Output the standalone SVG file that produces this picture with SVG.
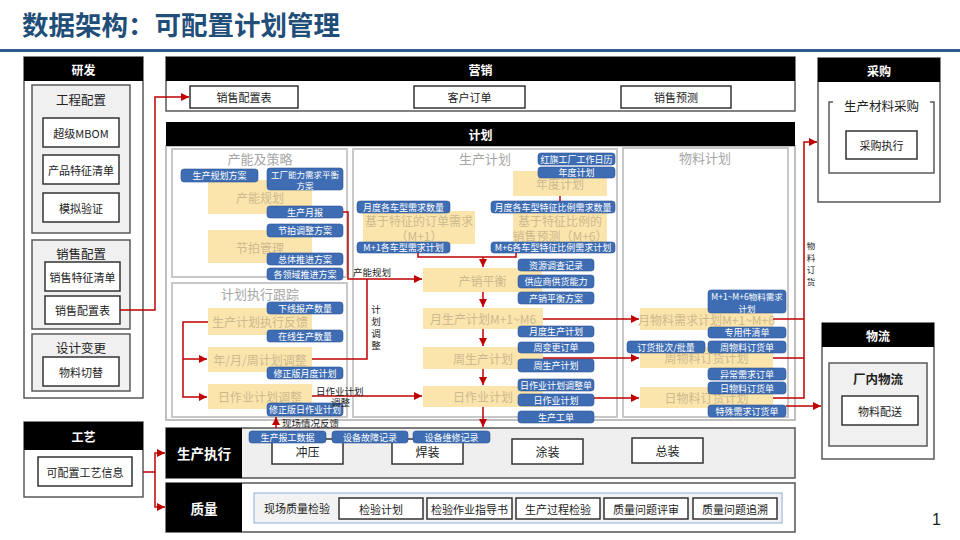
<svg xmlns="http://www.w3.org/2000/svg" width="960" height="540" viewBox="0 0 960 540">
<defs>
<marker id="arr" viewBox="0 0 10 10" refX="10" refY="5" markerWidth="8" markerHeight="8" markerUnits="userSpaceOnUse" orient="auto">
<path d="M0,0 L10,5 L0,10 z" fill="#c00000"/>
</marker>
<style>
text{font-family:"Noto Sans CJK SC","Noto Sans",sans-serif;}
.hd{fill:#000}
.hdt{fill:#fff;font-size:12px;font-weight:bold;text-anchor:middle;dominant-baseline:central}
.ob{fill:#fff;stroke:#595959;stroke-width:1.5}
.gb{fill:#f0f0f0;stroke:#595959;stroke-width:1.5}
.wb{fill:#fff;stroke:#333;stroke-width:1.5}
.t{fill:#222;font-size:11px;text-anchor:middle;dominant-baseline:central}
.gt{fill:#222;font-size:12.5px;text-anchor:middle;dominant-baseline:central}
.pn{fill:#fff;stroke:#c8c8c8;stroke-width:2}
.pt{fill:#a6a6a6;font-size:13px;text-anchor:middle;dominant-baseline:central}
.yb{fill:#fbe5ad}
.yt{fill:#cdb98e;font-size:12px;text-anchor:middle;dominant-baseline:central}
.tg{fill:#3e6db3;stroke:#2f5597;stroke-width:0.6}
.tt{fill:#fff;font-size:9px;text-anchor:middle;dominant-baseline:central}
.tt2{fill:#fff;font-size:8.5px;text-anchor:middle;dominant-baseline:central}
.cn{fill:none;stroke:#c00000;stroke-width:1.5}
.lb{fill:#222;font-size:9.5px;dominant-baseline:central}
</style>
</defs>
<rect width="960" height="540" fill="#fff"/>
<text x="22" y="35" style="font-size:26.5px;font-weight:bold;fill:#1f4e79">数据架构：可配置计划管理</text>
<rect x="0" y="49" width="960" height="3" fill="#2e5b8c"/>

<g id="yanfa">
<rect class="ob" x="24" y="57" width="119" height="341"/>
<rect class="hd" x="24" y="57" width="119" height="24"/>
<text class="hdt" x="83.5" y="69">研发</text>
<rect class="gb" x="32" y="85" width="98" height="148"/>
<text class="gt" x="81" y="99">工程配置</text>
<rect class="wb" x="43" y="118" width="76" height="29"/><text class="t" x="81" y="132.5">超级MBOM</text>
<rect class="wb" x="43" y="155" width="76" height="29"/><text class="t" x="81" y="169.5">产品特征清单</text>
<rect class="wb" x="43" y="193" width="76" height="29"/><text class="t" x="81" y="207.5">模拟验证</text>
<rect class="gb" x="32" y="240" width="98" height="89"/>
<text class="gt" x="81" y="253">销售配置</text>
<rect class="wb" x="45" y="262" width="75" height="29"/><text class="t" x="82.5" y="276.5">销售特征清单</text>
<rect class="wb" x="45" y="296" width="75" height="28"/><text class="t" x="82.5" y="310">销售配置表</text>
<rect class="gb" x="32" y="334" width="98" height="57"/>
<text class="gt" x="81" y="347">设计变更</text>
<rect class="wb" x="43" y="357" width="76" height="29"/><text class="t" x="81" y="371.5">物料切替</text>
</g>

<g id="gongyi">
<rect class="ob" x="24" y="422" width="119" height="75"/>
<rect class="hd" x="24" y="422" width="119" height="28"/>
<text class="hdt" x="83.5" y="436">工艺</text>
<rect class="wb" x="38" y="457" width="94" height="29"/><text class="t" x="85" y="471.5">可配置工艺信息</text>
</g>

<g id="yingxiao">
<rect class="ob" x="166" y="57" width="629" height="54"/>
<rect class="hd" x="166" y="57" width="629" height="24"/>
<text class="hdt" x="480.5" y="69">营销</text>
<rect class="wb" x="190" y="86" width="108" height="22"/><text class="t" x="244" y="97">销售配置表</text>
<rect class="wb" x="414" y="86" width="111" height="22"/><text class="t" x="469.5" y="97">客户订单</text>
<rect class="wb" x="621" y="86" width="110" height="22"/><text class="t" x="676" y="97">销售预测</text>
</g>

<g id="jihua">
<rect x="166" y="146" width="629" height="274" fill="#fff" stroke="#bfbfbf" stroke-width="2"/>
<rect class="hd" x="166" y="122" width="629" height="24"/>
<text class="hdt" x="480.5" y="134">计划</text>
</g>

<g id="channeng">
<rect class="pn" x="172" y="149" width="175" height="128"/>
<text class="pt" x="260" y="158">产能及策略</text>
<rect class="yb" x="208" y="180" width="104" height="34"/><text class="yt" x="260" y="197">产能规划</text>
<rect class="yb" x="208" y="230" width="104" height="33"/><text class="yt" x="260" y="247">节拍管理</text>
<rect class="tg" x="181" y="169" width="77" height="13" rx="3"/><text class="tt" x="219.5" y="175.5">生产规划方案</text>
<rect class="tg" x="267" y="168" width="76" height="22" rx="3"/><text class="tt2" x="305" y="173.5">工厂能力需求平衡</text><text class="tt2" x="305" y="184.5">方案</text>
<rect class="tg" x="267" y="206" width="76" height="12" rx="3"/><text class="tt" x="305" y="212">生产月报</text>
<rect class="tg" x="267" y="224" width="76" height="13" rx="3"/><text class="tt" x="305" y="230.5">节拍调整方案</text>
<rect class="tg" x="267" y="253" width="76" height="12" rx="3"/><text class="tt" x="305" y="259">总体推进方案</text>
<rect class="tg" x="267" y="268" width="76" height="12" rx="3"/><text class="tt" x="305" y="274">各领域推进方案</text>
</g>

<g id="genzong">
<rect class="pn" x="172" y="283" width="175" height="134"/>
<text class="pt" x="260" y="293">计划执行跟踪</text>
<rect class="yb" x="208" y="308" width="104" height="27"/><text class="yt" x="260" y="321.5">生产计划执行反馈</text>
<rect class="yb" x="208" y="347" width="104" height="25"/><text class="yt" x="260" y="359.5">年/月/周计划调整</text>
<rect class="yb" x="208" y="384" width="104" height="25"/><text class="yt" x="260" y="396.5">日作业计划调整</text>
<rect class="tg" x="267" y="302" width="76" height="12" rx="3"/><text class="tt" x="305" y="308">下线报产数量</text>
<rect class="tg" x="267" y="330" width="76" height="12" rx="3"/><text class="tt" x="305" y="336">在线生产数量</text>
<rect class="tg" x="267" y="367" width="76" height="12" rx="3"/><text class="tt" x="305" y="373">修正版月度计划</text>
<rect class="tg" x="267" y="403" width="76" height="13" rx="3"/><text class="tt" x="305" y="409.5">修正版日作业计划</text>
</g>

<g id="shengchanjihua">
<rect class="pn" x="353" y="149" width="264" height="268"/>
<text class="pt" x="485" y="158">生产计划</text>
<rect class="yb" x="513" y="171" width="94" height="25"/><text class="yt" x="560" y="183.5">年度计划</text>
<rect class="tg" x="538" y="153" width="77" height="12" rx="3"/><text class="tt" x="576.5" y="159">红旗工厂工作日历</text>
<rect class="tg" x="538" y="167" width="77" height="11" rx="3"/><text class="tt" x="576.5" y="172.5">年度计划</text>
<rect class="yb" x="363" y="211" width="112" height="33"/><text class="yt" x="419" y="220">基于特征的订单需求</text><text class="yt" x="419" y="235">（M+1）</text>
<rect class="tg" x="357" y="201" width="93" height="12" rx="3"/><text class="tt" x="403.5" y="207">月度各车型需求数量</text>
<rect class="tg" x="357" y="242" width="93" height="11" rx="3"/><text class="tt" x="403.5" y="247.5">M+1各车型需求计划</text>
<rect class="yb" x="513" y="211" width="94" height="33"/><text class="yt" x="560" y="220">基于特征比例的</text><text class="yt" x="560" y="235">销售预测（M+6）</text>
<rect class="tg" x="491" y="201" width="124" height="12" rx="3"/><text class="tt" x="553" y="207">月度各车型特征比例需求数量</text>
<rect class="tg" x="491" y="242" width="124" height="11" rx="3"/><text class="tt" x="553" y="247.5">M+6各车型特征比例需求计划</text>
<rect class="yb" x="423" y="268" width="119" height="24"/><text class="yt" x="482.5" y="280">产销平衡</text>
<rect class="tg" x="518" y="259" width="76" height="12" rx="3"/><text class="tt" x="556" y="265">资源调查记录</text>
<rect class="tg" x="518" y="275" width="76" height="13" rx="3"/><text class="tt" x="556" y="281.5">供应商供货能力</text>
<rect class="tg" x="518" y="292" width="76" height="12" rx="3"/><text class="tt" x="556" y="298">产销平衡方案</text>
<rect class="yb" x="423" y="308" width="120" height="21"/><text class="yt" x="483" y="318.5">月生产计划M+1~M6</text>
<rect class="tg" x="518" y="326" width="76" height="11" rx="3"/><text class="tt" x="556" y="331.5">月度生产计划</text>
<rect class="yb" x="423" y="347" width="120" height="22"/><text class="yt" x="483" y="358">周生产计划</text>
<rect class="tg" x="518" y="342" width="76" height="11" rx="3"/><text class="tt" x="556" y="347.5">周变更订单</text>
<rect class="tg" x="518" y="359" width="76" height="13" rx="3"/><text class="tt" x="556" y="365.5">周生产计划</text>
<rect class="yb" x="423" y="386" width="120" height="21"/><text class="yt" x="483" y="396.5">日作业计划</text>
<rect class="tg" x="518" y="379" width="76" height="12" rx="3"/><text class="tt" x="556" y="385">日作业计划调整单</text>
<rect class="tg" x="518" y="394" width="76" height="12" rx="3"/><text class="tt" x="556" y="400">日作业计划</text>
<rect class="tg" x="518" y="411" width="76" height="12" rx="3"/><text class="tt" x="556" y="417">生产工单</text>
</g>

<g id="wuliaojihua">
<rect class="pn" x="623" y="148" width="165" height="269"/>
<text class="pt" x="705" y="157">物料计划</text>
<rect class="yb" x="640" y="308" width="133" height="22"/><text class="yt" x="706.5" y="319">月物料需求计划M+1~M+6</text>
<rect class="yb" x="640" y="347" width="133" height="21"/><text class="yt" x="706.5" y="357.5">周物料订货计划</text>
<rect class="yb" x="640" y="387" width="133" height="21"/><text class="yt" x="706.5" y="397.5">日物料订货计划</text>
<rect class="tg" x="708" y="290" width="78" height="23" rx="3"/><text class="tt2" x="747" y="296">M+1~M+6物料需求</text><text class="tt2" x="747" y="307.5">计划</text>
<rect class="tg" x="708" y="327" width="78" height="11" rx="3"/><text class="tt" x="747" y="332.5">专用件清单</text>
<rect class="tg" x="708" y="341" width="78" height="12" rx="3"/><text class="tt" x="747" y="347">周物料订货单</text>
<rect class="tg" x="627" y="341" width="78" height="12" rx="3"/><text class="tt" x="666" y="347">订货批次/批量</text>
<rect class="tg" x="708" y="368" width="78" height="12" rx="3"/><text class="tt" x="747" y="374">异常需求订单</text>
<rect class="tg" x="708" y="382" width="78" height="12" rx="3"/><text class="tt" x="747" y="388">日物料订货单</text>
<rect class="tg" x="708" y="405" width="78" height="12" rx="3"/><text class="tt" x="747" y="411">特殊需求订货单</text>
</g>

<g id="caigou">
<rect class="ob" x="818" y="58" width="122" height="144"/>
<rect class="hd" x="818" y="58" width="122" height="24"/>
<text class="hdt" x="879" y="70">采购</text>
<path d="M833,102 H829 V173 H934 V102 H930" fill="none" stroke="#595959" stroke-width="1.5"/>
<text class="gt" x="881.5" y="105">生产材料采购</text>
<rect class="wb" x="846" y="131" width="71" height="28"/><text class="t" x="881.5" y="145">采购执行</text>
</g>

<g id="wuliu">
<rect class="ob" x="822" y="323" width="112" height="136"/>
<rect class="hd" x="822" y="323" width="112" height="24"/>
<text class="hdt" x="878" y="335">物流</text>
<rect class="gb" x="829" y="363" width="98" height="83"/>
<text class="gt" x="878" y="378" style="font-weight:bold">厂内物流</text>
<rect class="wb" x="842" y="396" width="76" height="29"/><text class="t" x="880" y="410.5">物料配送</text>
</g>

<g id="shengchanzhixing">
<rect x="166" y="428" width="629" height="50" fill="#efefef" stroke="#555" stroke-width="1.5"/>
<rect class="hd" x="166" y="428" width="76" height="50"/>
<text class="hdt" x="204" y="453" style="font-size:13.5px">生产执行</text>
<rect class="wb" x="272" y="439" width="71" height="25"/><text class="t" x="307.5" y="451.5" style="font-size:12px">冲压</text>
<rect class="wb" x="392" y="439" width="71" height="25"/><text class="t" x="427.5" y="451.5" style="font-size:12px">焊装</text>
<rect class="wb" x="512" y="439" width="71" height="25"/><text class="t" x="547.5" y="451.5" style="font-size:12px">涂装</text>
<rect class="wb" x="632" y="438" width="71" height="25"/><text class="t" x="667.5" y="450.5" style="font-size:12px">总装</text>
<rect class="tg" x="249" y="431" width="77" height="12" rx="3"/><text class="tt" x="287.5" y="437">生产报工数据</text>
<rect class="tg" x="332" y="431" width="76" height="12" rx="3"/><text class="tt" x="370" y="437">设备故障记录</text>
<rect class="tg" x="413" y="431" width="77" height="12" rx="3"/><text class="tt" x="451.5" y="437">设备维修记录</text>
</g>

<g id="zhiliang">
<rect x="166" y="483" width="629" height="49" fill="#fff" stroke="#555" stroke-width="1.5"/>
<rect class="hd" x="166" y="483" width="76" height="49"/>
<text class="hdt" x="204" y="507.5" style="font-size:13.5px">质量</text>
<rect x="254" y="493" width="528" height="30" fill="#f2f2f2" stroke="#8faadc" stroke-width="1"/>
<text class="t" x="297" y="508">现场质量检验</text>
<rect class="wb" x="339" y="498" width="84" height="21"/><text class="t" x="381" y="508.5">检验计划</text>
<rect class="wb" x="427" y="498" width="85" height="21"/><text class="t" x="469.5" y="508.5">检验作业指导书</text>
<rect class="wb" x="516" y="498" width="84" height="21"/><text class="t" x="558" y="508.5">生产过程检验</text>
<rect class="wb" x="604" y="498" width="84" height="21"/><text class="t" x="646" y="508.5">质量问题评审</text>
<rect class="wb" x="693" y="498" width="84" height="21"/><text class="t" x="735" y="508.5">质量问题追溯</text>
</g>

<g id="connectors">
<path class="cn" d="M120,310 H155 V97 H189" marker-end="url(#arr)"/>
<path class="cn" d="M343,212 H348 V279 H422" marker-end="url(#arr)"/>
<path class="cn" d="M312,359 H367 V279"/>
<path class="cn" d="M208,322 H183 V397 H207" marker-end="url(#arr)"/>
<path class="cn" d="M183,359 H207" marker-end="url(#arr)"/>
<path class="cn" d="M312,396 H422" marker-end="url(#arr)"/>
<path class="cn" d="M276,428 V417" marker-end="url(#arr)"/>
<path class="cn" d="M418,253 V257 H516 V253"/>
<path class="cn" d="M483,257 V267" marker-end="url(#arr)"/>
<path class="cn" d="M560,196 V201"/>
<path class="cn" d="M483,292 V307" marker-end="url(#arr)"/>
<path class="cn" d="M483,329 V346" marker-end="url(#arr)"/>
<path class="cn" d="M483,369 V385" marker-end="url(#arr)"/>
<path class="cn" d="M483,407 V427" marker-end="url(#arr)"/>
<path class="cn" d="M543,319 H639" marker-end="url(#arr)"/>
<path class="cn" d="M543,358 H639" marker-end="url(#arr)"/>
<path class="cn" d="M594,398 H639" marker-end="url(#arr)"/>
<path class="cn" d="M773,319 H804"/>
<path class="cn" d="M773,358 H804"/>
<path class="cn" d="M773,398 H804 V142 H817" marker-end="url(#arr)"/>
<path class="cn" d="M786,406 H821" marker-end="url(#arr)"/>
<path class="cn" d="M143,472 H155 V453 H165" marker-end="url(#arr)"/>
<path class="cn" d="M155,472 V507 H165" marker-end="url(#arr)"/>
<text class="lb" x="353" y="272">产能规划</text>
<text class="lb" x="376" y="309" text-anchor="middle">计</text>
<text class="lb" x="376" y="321" text-anchor="middle">划</text>
<text class="lb" x="376" y="333" text-anchor="middle">调</text>
<text class="lb" x="376" y="345" text-anchor="middle">整</text>
<text class="lb" x="316" y="391">日作业计划</text>
<text class="lb" x="331" y="402">调整</text>
<text class="lb" x="282" y="423">现场情况反馈</text>
<text class="lb" x="811" y="245" text-anchor="middle" style="font-size:8.5px">物</text>
<text class="lb" x="811" y="257" text-anchor="middle" style="font-size:8.5px">料</text>
<text class="lb" x="811" y="269" text-anchor="middle" style="font-size:8.5px">订</text>
<text class="lb" x="811" y="281" text-anchor="middle" style="font-size:8.5px">货</text>
</g>

<text x="932" y="525" style="font-family:'Liberation Sans',sans-serif;font-size:16px;fill:#222">1</text>
</svg>
